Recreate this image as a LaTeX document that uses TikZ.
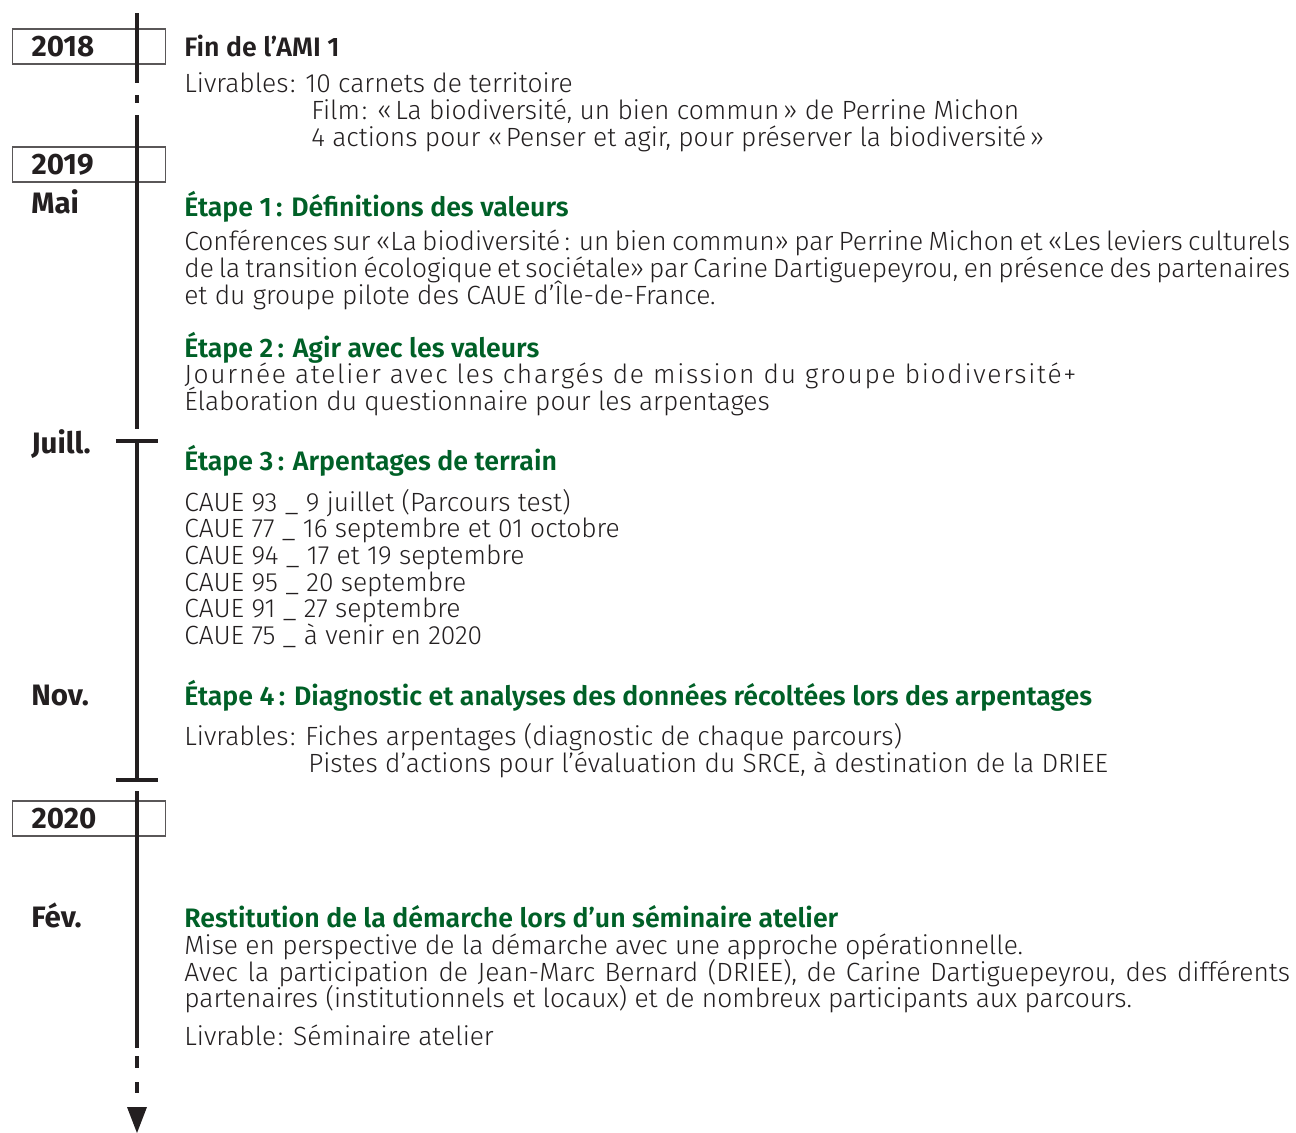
\documentclass[tikz,border=0pt]{standalone}
\usepackage{fontspec}
\setmainfont{Fira Sans}[UprightFont=* Light, BoldFont=* SemiBold]
\newfontfamily\yearfont{Fira Sans}[UprightFont=* Bold]
\usepackage{tikz}
\usetikzlibrary{positioning}
\definecolor{ink}{RGB}{35,31,32}
\definecolor{vert}{RGB}{0,96,39}
\newcommand{\bodysize}{\fontsize{15pt}{18pt}\selectfont}
\newcommand{\headsize}{\fontsize{15.2pt}{18pt}\selectfont}
\newcommand{\yearsize}{\fontsize{16.8pt}{19pt}\selectfont}
\newcommand{\fullline}[1]{\makebox[22.12cm][s]{#1}}
\tikzstyle{yearbox} = [draw=ink!75, line width=0.6pt, fill=white, minimum height=0.7cm, text width=2.3cm, inner xsep=0.38cm, inner ysep=0pt, align=left, font=\yearsize\yearfont, text=ink, anchor=west]
\tikzstyle{month} = [anchor=base west, inner sep=0pt, font=\yearsize\yearfont, text=ink]
\tikzstyle{txt} = [anchor=base west, inner sep=0pt, font=\bodysize, text=ink]
\tikzstyle{blackhead} = [anchor=base west, inner sep=0pt, font=\headsize\bfseries, text=ink]
\tikzstyle{etapehead} = [anchor=base west, inner sep=0pt, font=\headsize\bfseries, text=vert]
\tikzstyle{tline} = [draw=ink, line width=2.3pt]
\tikzstyle{tbar} = [draw=ink, line width=2.8pt]

\begin{document}
\begin{tikzpicture}[x=0.02cm, y=-0.02cm]
    \useasboundingbox (0,0) rectangle (1296,1133);

    % Year boxes
    \node[yearbox] (y2018) at (12,46.5) {2018};
    \node[yearbox] (y2019) at (12,164.5) {2019};
    \node[yearbox] (y2020) at (12,818.5) {2020};

    % Months
    \node[month] (mai) at (31,213) {Mai};
    \node[month] (juill) at (31,453) {Juill.};
    \node[month] (nov) at (31,705) {Nov.};
    \node[month] (fev) at (31,927) {Fév.};

    % Timeline
    \coordinate (t0) at (137,13);
    \coordinate (t1) at (137,83);
    \draw[tline] (t0) -- (t1);
    \draw[tline] (137,95) -- (137,103);
    \draw[tline] (137,115) -- (137,429);
    \coordinate (jt) at (137,441);
    \coordinate (nb) at (137,780);
    \draw[tline] (jt) -- (nb);
    \draw[tbar] ([xshift=-12]jt) -- ([xshift=12]jt);
    \draw[tbar] ([xshift=-12]nb) -- ([xshift=12]nb);
    \draw[tline] (137,791) -- (137,1048);
    \draw[tline] (137,1056) -- (137,1068);
    \draw[tline] (137,1082) -- (137,1093);
    \fill[ink] (127,1107) -- (147,1107) -- (137,1133) -- cycle;

    % 2018
    \node[blackhead] (ami) at (184,56) {Fin de l’AMI 1};
    \node[txt] (liv1) at (184,92) {Livrables\kern1pt: 10 carnets de territoire};
    \node[txt] (film) at (311,119) {Film\kern1pt: «\kern2pt La biodiversité, un bien commun\kern2pt» de Perrine Michon};
    \node[txt] (act) at (311,146) {4 actions pour «\kern2pt Penser et agir, pour préserver la biodiversité\kern2pt»};

    % Etape 1
    \node[etapehead] (e1) at (184,216) {Étape 1\,: Définitions des valeurs};
    \node[txt] (e1a) at (184,250) {\fullline{Conférences sur «La biodiversité\,: un bien commun» par Perrine Michon et «Les leviers culturels}};
    \node[txt] (e1b) at (184,277) {\fullline{de la transition écologique et sociétale» par Carine Dartiguepeyrou, en présence des partenaires}};
    \node[txt] (e1c) at (184,304) {et du groupe pilote des CAUE d’Île-de-France.};

    % Etape 2
    \node[etapehead] (e2) at (184,357) {Étape 2\,: Agir avec les valeurs};
    \node[txt] (e2a) at (184,383) {\addfontfeature{LetterSpace=6.5}Journée atelier avec les chargés de mission du groupe biodiversité+};
    \node[txt] (e2b) at (184,410) {Élaboration du questionnaire pour les arpentages};

    % Etape 3
    \node[etapehead] (e3) at (184,470) {Étape 3\,: Arpentages de terrain};
    \node[txt] (c93) at (184,511) {CAUE 93 \_ 9 juillet (Parcours test)};
    \node[txt] (c77) at (184,537.5) {CAUE 77 \_ 16 septembre et 01 octobre};
    \node[txt] (c94) at (184,564) {CAUE 94 \_ 17 et 19 septembre};
    \node[txt] (c95) at (184,591) {CAUE 95 \_ 20 septembre};
    \node[txt] (c91) at (184,617) {CAUE 91 \_ 27 septembre};
    \node[txt] (c75) at (184,644) {CAUE 75 \_ à venir en 2020};

    % Etape 4
    \node[etapehead] (e4) at (184,705) {Étape 4\,: Diagnostic et analyses des données récoltées lors des arpentages};
    \node[txt] (liv4) at (184,745) {Livrables\kern1pt: Fiches arpentages (diagnostic de chaque parcours)};
    \node[txt] (pist) at (308,772) {Pistes d’actions pour l’évaluation du SRCE, à destination de la DRIEE};

    % Restitution
    \node[etapehead] (rest) at (184,927) {Restitution de la démarche lors d’un séminaire atelier};
    \node[txt] (ra) at (184,954) {Mise en perspective de la démarche avec une approche opérationnelle.};
    \node[txt] (rb) at (184,981) {\fullline{Avec la participation de Jean-Marc Bernard (DRIEE), de Carine Dartiguepeyrou, des différents}};
    \node[txt] (rc) at (184,1007) {partenaires (institutionnels et locaux) et de nombreux participants aux parcours.};
    \node[txt] (rd) at (184,1045) {Livrable\kern1pt: Séminaire atelier};
\end{tikzpicture}
\end{document}
